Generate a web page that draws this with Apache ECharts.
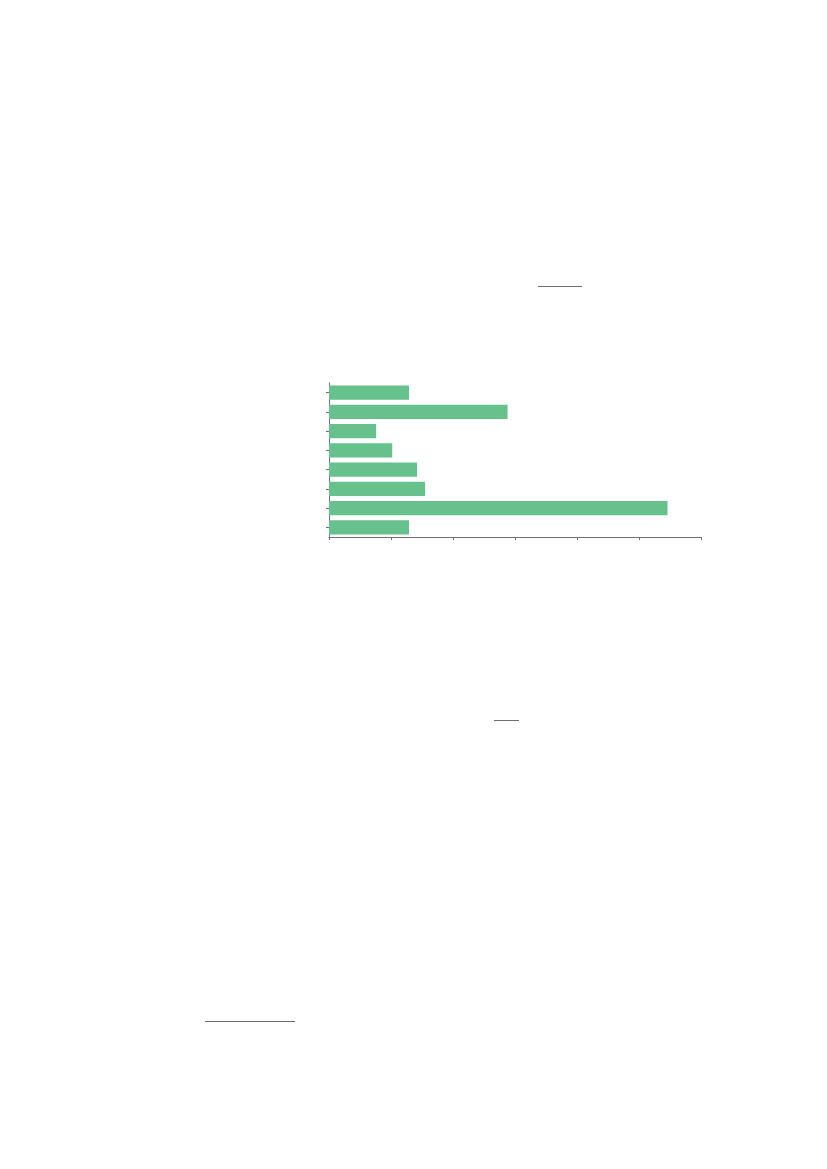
<!DOCTYPE html>
<html>
<head>
<meta charset="utf-8">
<script src="https://cdn.jsdelivr.net/npm/echarts@6/dist/echarts.min.js"></script>
<style>
html,body{margin:0;padding:0;background:#fff;}
#chart{width:827px;height:1169px;}
</style>
</head>
<body>
<div id="chart"></div>
<script>
// Categories listed top to bottom (labels are not visible in the reference)
var categories = ['A', 'B', 'C', 'D', 'E', 'F', 'G', 'H'];
var values = [12.9, 28.8, 7.6, 10.2, 14.2, 15.5, 54.6, 12.9];
var xTicks = [0, 10, 20, 30, 40, 50, 60];

var chart = echarts.init(document.getElementById('chart'), null, {renderer: 'canvas'});
var axisColor = '#6e7079';
var ruleColor = '#6f6f6f';
chart.setOption({
  animation: false,
  backgroundColor: '#ffffff',
  grid: {left: 329, right: 126, top: 383, bottom: 632, containLabel: false},
  xAxis: {
    type: 'value',
    min: xTicks[0],
    max: xTicks[xTicks.length - 1],
    interval: xTicks[1] - xTicks[0],
    axisLine: {show: true, lineStyle: {color: axisColor, width: 1}},
    axisTick: {show: true, length: 3, lineStyle: {color: axisColor}},
    axisLabel: {show: false},
    splitLine: {show: false}
  },
  yAxis: {
    type: 'category',
    inverse: true,
    data: categories,
    axisLine: {show: true, lineStyle: {color: axisColor, width: 1}},
    axisTick: {show: true, alignWithLabel: true, length: 3, lineStyle: {color: axisColor}},
    axisLabel: {show: false},
    splitLine: {show: false}
  },
  series: [{
    type: 'bar',
    data: values,
    barCategoryGap: '27%',
    itemStyle: {color: '#66c18c'}
  }],
  graphic: [
    {type: 'line', shape: {x1: 538, y1: 286.5, x2: 582, y2: 286.5}, style: {stroke: ruleColor, lineWidth: 1}},
    {type: 'line', shape: {x1: 494, y1: 720.5, x2: 519, y2: 720.5}, style: {stroke: ruleColor, lineWidth: 1}},
    {type: 'line', shape: {x1: 205, y1: 1021.5, x2: 295, y2: 1021.5}, style: {stroke: ruleColor, lineWidth: 1}}
  ]
});
</script>
</body>
</html>
